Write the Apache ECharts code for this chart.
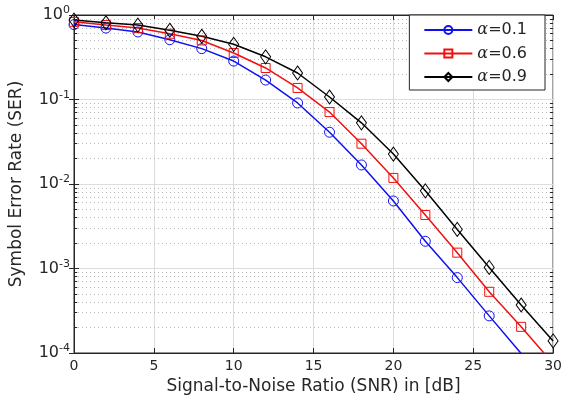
<!DOCTYPE html>
<html>
<head>
<meta charset="utf-8">
<script src="https://cdn.jsdelivr.net/npm/echarts@6/dist/echarts.min.js"></script>
<style>
html, body { margin: 0; padding: 0; background: #fff; }
#chart { width: 565px; height: 400px; }
</style>
</head>
<body>
<div id="chart"></div>
<script>
// SNR (dB) of the markers
var snr = [0, 2, 4, 6, 8, 10, 12, 14, 16, 18, 20, 22, 24, 26, 28, 30];
// SER
var ser01 = [0.77, 0.70, 0.63, 0.51, 0.40, 0.285, 0.17, 0.091, 0.041, 0.0168, 0.0063, 0.0021, 0.00078, 0.000275, 0.0000985, 0.0000345];
var ser06 = [0.83, 0.76, 0.70, 0.60, 0.50, 0.355, 0.236, 0.137, 0.071, 0.030, 0.0118, 0.0043, 0.00154, 0.00053, 0.000204, 0.000075];
var ser09 = [0.87, 0.81, 0.76, 0.66, 0.56, 0.45, 0.32, 0.206, 0.107, 0.053, 0.0226, 0.0083, 0.0029, 0.00103, 0.00037, 0.000139];
var names = ["α=0.1", "α=0.6", "α=0.9"];
// decades of the y axis and the minor grid steps inside each one
var decades = [1e-4, 1e-3, 1e-2, 1e-1];
var minorSteps = [2, 3, 4, 5, 6, 7, 8, 9];
var xMin = 0, xMax = 30;
var tickLen = 0.2; // minor tick length, in dB
var axisColor = "#262626";
var font = "DejaVu Sans";

var minorLines = [];
var minorTicks = [];
decades.forEach(function (d) {
	minorSteps.forEach(function (m) {
		var v = d * m;
		minorLines.push([{ coord: [xMin, v] }, { coord: [xMax, v] }]);
		minorTicks.push([{ coord: [xMin, v] }, { coord: [xMin + tickLen, v] }]);
		minorTicks.push([{ coord: [xMax - tickLen, v] }, { coord: [xMax, v] }]);
	});
});

function pairs(ys) {
	return snr.map(function (x, i) {
		return [x, ys[i]];
	});
}

function curve(name, ys, color, symbol, size) {
	return {
		name: name,
		type: "line",
		data: pairs(ys),
		symbol: symbol,
		symbolSize: size,
		z: 5,
		lineStyle: { color: color, width: 1.5 },
		itemStyle: { color: "rgba(255,255,255,0)", borderColor: color, borderWidth: 1 },
		emphasis: { disabled: true }
	};
}

function guides(lines, style) {
	return {
		type: "line",
		data: [],
		z: 1,
		silent: true,
		markLine: {
			z: 1,
			silent: true,
			symbol: "none",
			label: { show: false },
			lineStyle: style,
			emphasis: { disabled: true },
			data: lines
		}
	};
}

var myChart = echarts.init(document.getElementById("chart"), null, { renderer: "canvas" });
var option = {
	animation: false,
	textStyle: { fontFamily: font },
	grid: { left: 72, right: 11, top: 15, bottom: 47, show: true, borderColor: axisColor, borderWidth: 1 },
	legend: {
		orient: "vertical",
		right: 20,
		top: 15,
		z: 10,
		data: names,
		itemWidth: 48,
		itemHeight: 10,
		itemGap: 7.5,
		padding: [7, 18, 5, 14],
		backgroundColor: "#fff",
		borderColor: axisColor,
		borderWidth: 1,
		borderRadius: 0,
		formatter: function (n) {
			return "{a|α}" + n.slice(1);
		},
		textStyle: {
			fontSize: 16,
			color: axisColor,
			rich: {
				a: { fontFamily: "DejaVu Serif", fontStyle: "italic", fontSize: 16, color: axisColor }
			}
		}
	},
	xAxis: [{
		type: "value",
		min: xMin,
		max: xMax,
		interval: 5,
		name: "Signal-to-Noise Ratio (SNR) in [dB]",
		nameLocation: "middle",
		nameGap: 24,
		nameTextStyle: { fontSize: 17, color: axisColor },
		axisLine: { lineStyle: { color: axisColor } },
		axisTick: { inside: true, length: 5, lineStyle: { color: axisColor } },
		axisLabel: { fontSize: 14, color: axisColor, margin: 6 },
		splitLine: { show: true, lineStyle: { color: "#dcdcdc" } }
	}, {
		type: "value",
		position: "top",
		min: xMin,
		max: xMax,
		interval: 5,
		axisLine: { show: true, lineStyle: { color: axisColor } },
		axisTick: { inside: true, length: 5, lineStyle: { color: axisColor } },
		axisLabel: { show: false },
		splitLine: { show: false }
	}],
	yAxis: [{
		type: "log",
		logBase: 10,
		min: 1e-4,
		max: 1,
		name: "Symbol Error Rate (SER)",
		nameLocation: "middle",
		nameGap: 49,
		nameTextStyle: { fontSize: 17, color: axisColor },
		axisLine: { show: true, lineStyle: { color: axisColor } },
		axisTick: { inside: true, length: 5, lineStyle: { color: axisColor } },
		splitLine: { show: true, lineStyle: { color: "#dcdcdc" } },
		axisLabel: {
			color: axisColor,
			margin: 4,
			formatter: function (v) {
				return "{b|10}{s|" + Math.round(Math.log10(v)) + "}";
			},
			rich: {
				b: { fontSize: 16, color: axisColor },
				s: { fontSize: 11, color: axisColor, padding: [0, 0, 9, 0] }
			}
		}
	}, {
		type: "log",
		logBase: 10,
		min: 1e-4,
		max: 1,
		position: "right",
		axisLine: { show: true, lineStyle: { color: axisColor } },
		axisTick: { inside: true, length: 5, lineStyle: { color: axisColor } },
		axisLabel: { show: false },
		splitLine: { show: false }
	}],
	series: [
		// dotted minor grid of the log axis
		guides(minorLines, { color: "#b8b8b8", type: [1, 3], width: 1 }),
		// minor ticks on the left and right edges
		guides(minorTicks, { color: axisColor, type: "solid", width: 1 }),
		curve(names[0], ser01, "#1010f0", "circle", 10),
		curve(names[1], ser06, "#f01010", "rect", 9),
		curve(names[2], ser09, "#000000", "diamond", [10, 14])
	]
};
myChart.setOption(option);
window.addEventListener("resize", myChart.resize);
</script>
</body>
</html>
